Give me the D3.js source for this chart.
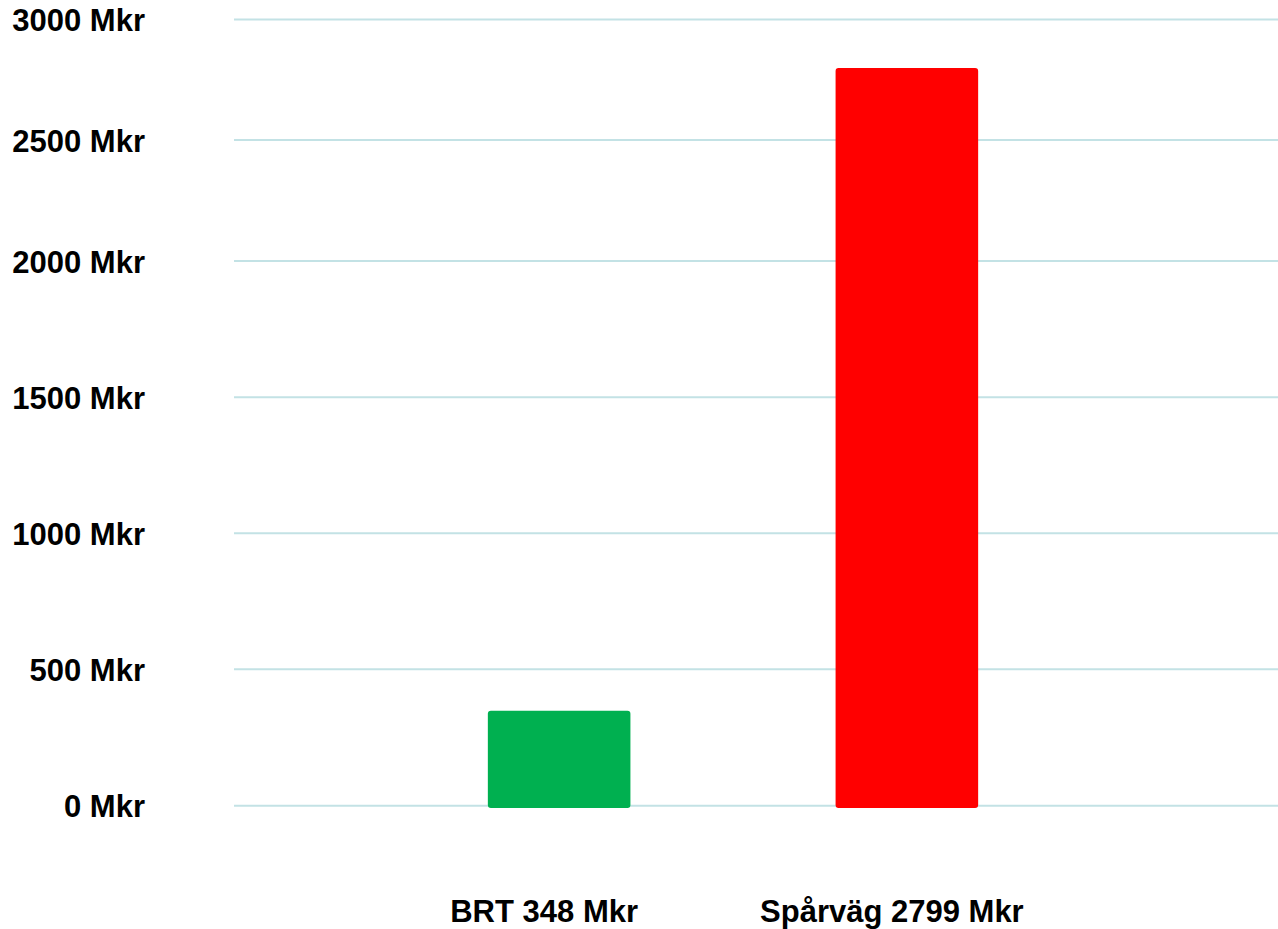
<!DOCTYPE html>
<html>
<head>
<meta charset="utf-8">
<script src="https://cdn.jsdelivr.net/npm/d3@7"></script>
<style>
  html, body { margin: 0; padding: 0; background: #ffffff; }
  svg { display: block; }
  text { font-family: "Liberation Sans", Arial, sans-serif; font-weight: bold; fill: #000; }
</style>
</head>
<body>
<svg id="chart" width="1278" height="929"></svg>
<script>
// ---- data ----
const categories = ["BRT", "Spårväg"];
const values = [348, 2799];
const barColors = ["#00b050", "#ff0000"];
const tickValues = [0, 500, 1000, 1500, 2000, 2500, 3000];
const unit = "Mkr";

// ---- layout ----
const W = 1278, H = 929;
const svg = d3.select("#chart");

// The reference's value axis is not evenly spaced at the top; use a piecewise linear scale
const y = d3.scaleLinear()
  .domain(tickValues)
  .range([805.7, 669.3, 533.3, 397.3, 261, 140, 19.5]);

const x = d3.scaleBand()
  .domain(categories)
  .range([234, 1232])
  .paddingInner(0.59)
  .paddingOuter(0.73);

// gridlines
svg.append("g").selectAll("line")
  .data(tickValues)
  .join("line")
  .attr("x1", 234)
  .attr("x2", W)
  .attr("y1", d => y(d))
  .attr("y2", d => y(d))
  .attr("stroke", "#c3e2e5")
  .attr("stroke-width", 2);

// y labels
svg.append("g").selectAll("text")
  .data(tickValues)
  .join("text")
  .attr("x", 145)
  .attr("y", d => y(d) + 11.5)
  .attr("text-anchor", "end")
  .style("font-size", "31px")
  .text(d => `${d} ${unit}`);

// bars
svg.append("g").selectAll("rect")
  .data(categories)
  .join("rect")
  .attr("x", d => x(d))
  .attr("width", x.bandwidth())
  .attr("y", (d, i) => y(values[i]))
  .attr("height", (d, i) => y(0) - y(values[i]) + 2.3)
  .attr("rx", 3)
  .attr("ry", 3)
  .attr("fill", (d, i) => barColors[i]);

// category labels
svg.append("g").selectAll("text")
  .data(categories)
  .join("text")
  .attr("x", d => x(d) + x.bandwidth() / 2 - 15)
  .attr("y", 921.5)
  .attr("text-anchor", "middle")
  .style("font-size", "31px")
  .text((d, i) => `${d} ${values[i]} ${unit}`);
</script>
</body>
</html>
